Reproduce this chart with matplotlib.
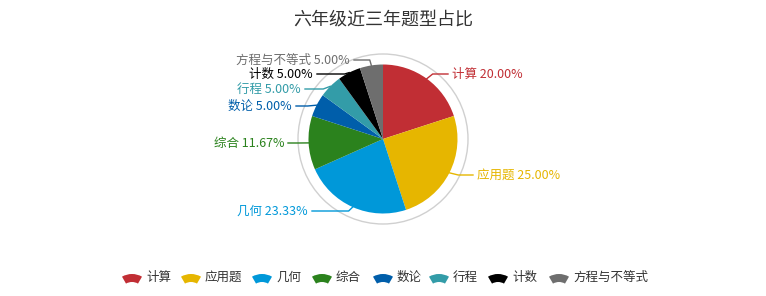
import matplotlib
matplotlib.use("Agg")
import matplotlib.pyplot as plt
import numpy as np
from matplotlib.patches import Wedge, Circle

plt.rcParams['font.family'] = ['Noto Sans CJK SC', 'DejaVu Sans']

# ---------------------------------------------------------------------------
# Data
# ---------------------------------------------------------------------------
title = "六年级近三年题型占比"
categories = ["计算", "应用题", "几何", "综合", "数论", "行程", "计数", "方程与不等式"]
shares = [20.00, 25.00, 23.33, 11.67, 5.00, 5.00, 5.00, 5.00]
colors = ["#c12e34", "#e6b600", "#0098d9", "#2b821d",
          "#005eaa", "#339ca8", "#000000", "#6e6e6e"]

# layout (pixel coordinates, y downwards)
W, H = 766, 296
CX, CY, R = 383, 139, 74.5
# label anchor: (x, y, side) -> side 'l' text ends at x, 'r' text starts at x
label_pos = [(452, 74, "r"), (477, 175, "r"), (308, 211, "l"), (284, 143, "l"),
             (292, 106, "l"), (301, 89, "l"), (313, 74, "l"), (350, 60, "l")]
legend_icon_x = [132, 191, 262, 322, 383, 439, 498, 559]
LEGEND_Y = 278


def Y(y):
    return H - y


fig = plt.figure(figsize=(W / 100, H / 100), dpi=100)
ax = fig.add_axes([0, 0, 1, 1])

ax.pie(shares, colors=colors, startangle=90, counterclock=False,
       center=(CX, Y(CY)), radius=R, wedgeprops=dict(linewidth=0))
ax.add_patch(Circle((CX, Y(CY)), 85, fill=False, edgecolor="#d0d0d0", linewidth=1))

ax.set_xlim(0, W)
ax.set_ylim(0, H)
ax.set_aspect("auto")
ax.axis("off")

# labels with leader lines
cum = np.cumsum([0] + shares[:-1])
for val, start, cat, col, (lx, ly, side) in zip(shares, cum, categories, colors, label_pos):
    ang = np.deg2rad((start + val / 2) * 3.6)
    ex, ey = CX + R * np.sin(ang), CY - R * np.cos(ang)
    bx = CX + (R + 10) * np.sin(ang)
    gap = 4
    if side == "r":
        tx = lx - gap
        bx = max(bx, ex)
        ax.plot([ex, bx, tx], [Y(ey), Y(ly), Y(ly)], color=col, lw=1)
        ax.text(lx, Y(ly), f"{cat} {val:.2f}%", color=col, fontsize=9,
                ha="left", va="center")
    else:
        tx = lx + gap
        bx = min(bx, ex)
        ax.plot([ex, bx, tx], [Y(ey), Y(ly), Y(ly)], color=col, lw=1)
        ax.text(lx, Y(ly), f"{cat} {val:.2f}%", color=col, fontsize=9,
                ha="right", va="center")

ax.text(CX, Y(20), title, fontsize=13, ha="center", va="center", color="#333333")

# legend with fan-shaped icons
for cat, col, ix in zip(categories, colors, legend_icon_x):
    ax.add_patch(Wedge((ix, Y(LEGEND_Y) - 16), 20, 60, 120, width=8,
                       facecolor=col, edgecolor="none"))
    ax.text(ix + 14, Y(LEGEND_Y - 0.5), cat, fontsize=9, ha="left", va="center",
            color="#333333")

fig.savefig("out.png", dpi=100)
